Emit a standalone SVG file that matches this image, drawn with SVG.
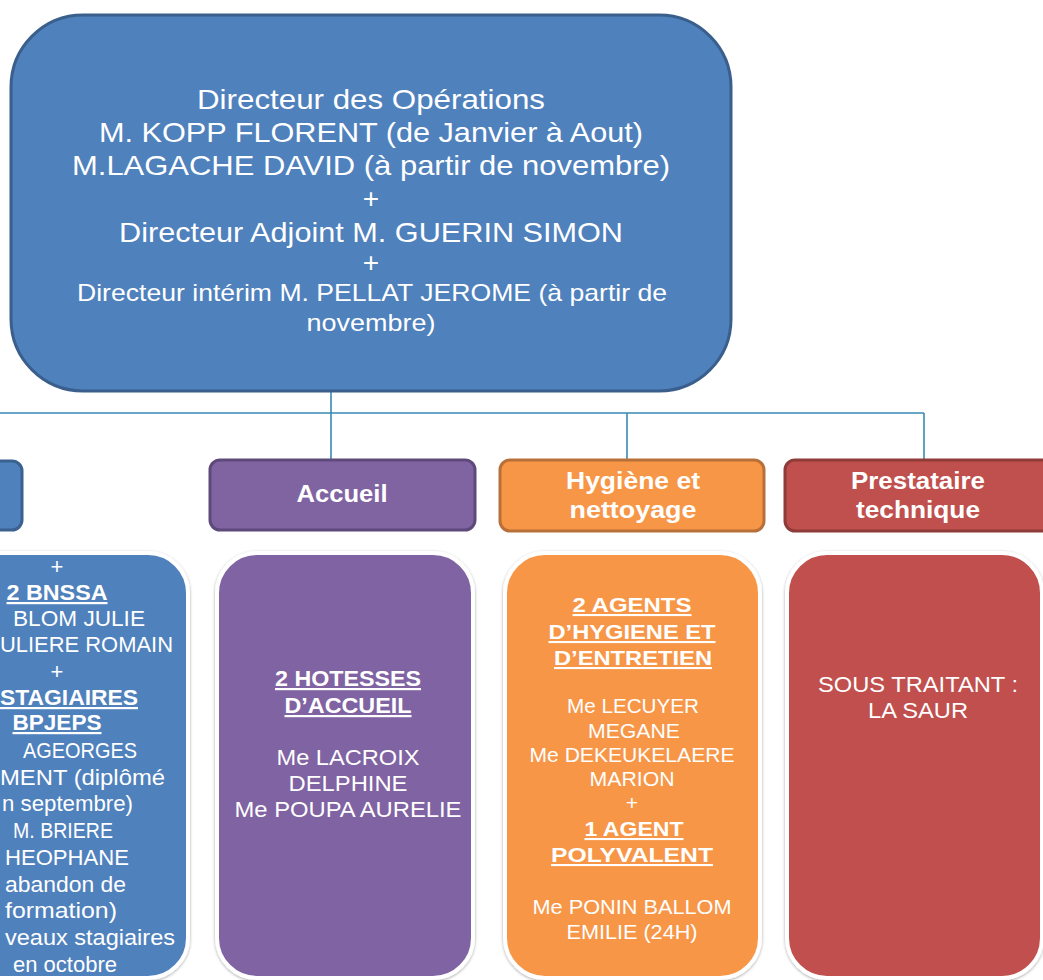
<svg xmlns="http://www.w3.org/2000/svg" width="1043" height="980" viewBox="0 0 1043 980">
<defs>
<filter id="sh" x="-10%" y="-10%" width="120%" height="120%">
<feDropShadow dx="0" dy="1" stdDeviation="1.5" flood-color="#000" flood-opacity="0.35"/>
</filter>
<style>
.t{font-family:"Liberation Sans",Arial,sans-serif;fill:#fff;text-anchor:middle}
.top{font-size:28px}
.top2{font-size:24px}
.hd{font-size:23px;font-weight:bold}
.b{font-size:22px}
.o{font-size:21px}
.u{font-weight:bold;text-decoration:underline}
.e{text-anchor:end}
.body{stroke:#fff;stroke-width:4;filter:url(#sh)}
.con{fill:none;stroke:#3A8BB4;stroke-width:1.6}
</style>
</defs>
<rect width="1043" height="980" fill="#fff"/>

<g id="connectors">
<path class="con" d="M331,391 V460 M0,413 H924 M627,413 V460 M924,413 V460"/>
</g>

<g id="director">
<rect x="11" y="15" width="720" height="376" rx="72" fill="#4F81BD" stroke="#3B5F8C" stroke-width="3"/>
<text class="t top" x="371" y="109" textLength="348" lengthAdjust="spacingAndGlyphs">Directeur des Opérations</text>
<text class="t top" x="371" y="142" textLength="544" lengthAdjust="spacingAndGlyphs">M. KOPP FLORENT (de Janvier à Aout)</text>
<text class="t top" x="371" y="175" textLength="598" lengthAdjust="spacingAndGlyphs">M.LAGACHE DAVID (à partir de novembre)</text>
<text class="t top" x="371" y="208">+</text>
<text class="t top" x="371" y="242" textLength="504" lengthAdjust="spacingAndGlyphs">Directeur Adjoint M. GUERIN SIMON</text>
<text class="t top" x="371" y="272">+</text>
<text class="t top2" x="372" y="301" textLength="590" lengthAdjust="spacingAndGlyphs">Directeur intérim M. PELLAT JEROME (à partir de</text>
<text class="t top2" x="371" y="331" textLength="129" lengthAdjust="spacingAndGlyphs">novembre)</text>
</g>

<g id="left-header">
<rect x="-250" y="461" width="272" height="69" rx="10" fill="#4F81BD" stroke="#3A6190" stroke-width="3"/>
</g>

<g id="left-body">
<rect class="body" x="-70" y="553" width="258" height="425" rx="40" fill="#4F81BD"/>
<text class="t b" x="57" y="574">+</text>
<text class="t b u" x="57" y="600" textLength="101" lengthAdjust="spacingAndGlyphs">2 BNSSA</text>
<text class="t b" x="79" y="626" textLength="132" lengthAdjust="spacingAndGlyphs">BLOM JULIE</text>
<text class="t b e" x="173" y="652" textLength="173" lengthAdjust="spacingAndGlyphs">ULIERE ROMAIN</text>
<text class="t b" x="57" y="679">+</text>
<text class="t b u e" x="138" y="705" textLength="138" lengthAdjust="spacingAndGlyphs">STAGIAIRES</text>
<text class="t b u" x="57" y="730" textLength="89" lengthAdjust="spacingAndGlyphs">BPJEPS</text>
<text class="t b" x="80" y="758" textLength="114" lengthAdjust="spacingAndGlyphs">AGEORGES</text>
<text class="t b e" x="165" y="785" textLength="165" lengthAdjust="spacingAndGlyphs">MENT (diplômé</text>
<text class="t b e" x="133" y="811" textLength="131" lengthAdjust="spacingAndGlyphs">n septembre)</text>
<text class="t b" x="63" y="838" textLength="100" lengthAdjust="spacingAndGlyphs">M. BRIERE</text>
<text class="t b e" x="129" y="865" textLength="124" lengthAdjust="spacingAndGlyphs">HEOPHANE</text>
<text class="t b e" x="126" y="892" textLength="121" lengthAdjust="spacingAndGlyphs">abandon de</text>
<text class="t b e" x="117" y="918" textLength="112" lengthAdjust="spacingAndGlyphs">formation)</text>
<text class="t b e" x="175" y="945" textLength="170" lengthAdjust="spacingAndGlyphs">veaux stagiaires</text>
<text class="t b e" x="117" y="972" textLength="104" lengthAdjust="spacingAndGlyphs">en octobre</text>
</g>

<g id="accueil-header">
<rect x="210" y="460" width="265" height="70" rx="10" fill="#8064A2" stroke="#5E4A7A" stroke-width="3"/>
<text class="t hd" x="342" y="502" textLength="91" lengthAdjust="spacingAndGlyphs">Accueil</text>
</g>

<g id="accueil-body">
<rect class="body" x="217" y="553" width="256" height="425" rx="40" fill="#8064A2"/>
<text class="t b u" x="348" y="686" textLength="146" lengthAdjust="spacingAndGlyphs">2 HOTESSES</text>
<text class="t b u" x="348" y="713" textLength="127" lengthAdjust="spacingAndGlyphs">D’ACCUEIL</text>
<text class="t b" x="348" y="765" textLength="143" lengthAdjust="spacingAndGlyphs">Me LACROIX</text>
<text class="t b" x="348" y="791" textLength="119" lengthAdjust="spacingAndGlyphs">DELPHINE</text>
<text class="t b" x="348" y="817" textLength="227" lengthAdjust="spacingAndGlyphs">Me POUPA AURELIE</text>
</g>

<g id="hygiene-header">
<rect x="500" y="460" width="264" height="71" rx="10" fill="#F79646" stroke="#B8703A" stroke-width="3"/>
<text class="t hd" x="633" y="489" textLength="134" lengthAdjust="spacingAndGlyphs">Hygiène et</text>
<text class="t hd" x="633" y="518" textLength="127" lengthAdjust="spacingAndGlyphs">nettoyage</text>
</g>

<g id="hygiene-body">
<rect class="body" x="505" y="553" width="255" height="425" rx="40" fill="#F79646"/>
<text class="t o u" x="632" y="612" textLength="119" lengthAdjust="spacingAndGlyphs">2 AGENTS</text>
<text class="t o u" x="632" y="639" textLength="167" lengthAdjust="spacingAndGlyphs">D’HYGIENE ET</text>
<text class="t o u" x="633" y="665" textLength="158" lengthAdjust="spacingAndGlyphs">D’ENTRETIEN</text>
<text class="t o" x="633" y="713" textLength="132" lengthAdjust="spacingAndGlyphs">Me LECUYER</text>
<text class="t o" x="634" y="738" textLength="92" lengthAdjust="spacingAndGlyphs">MEGANE</text>
<text class="t o" x="632" y="762" textLength="205" lengthAdjust="spacingAndGlyphs">Me DEKEUKELAERE</text>
<text class="t o" x="632" y="786" textLength="85" lengthAdjust="spacingAndGlyphs">MARION</text>
<text class="t o" x="632" y="810">+</text>
<text class="t o u" x="634" y="836" textLength="99" lengthAdjust="spacingAndGlyphs">1 AGENT</text>
<text class="t o u" x="632" y="862" textLength="162" lengthAdjust="spacingAndGlyphs">POLYVALENT</text>
<text class="t o" x="632" y="914" textLength="199" lengthAdjust="spacingAndGlyphs">Me PONIN BALLOM</text>
<text class="t o" x="632" y="939" textLength="131" lengthAdjust="spacingAndGlyphs">EMILIE (24H)</text>
</g>

<g id="prestataire-header">
<rect x="785" y="460" width="270" height="71" rx="10" fill="#C0504D" stroke="#8E3B39" stroke-width="3"/>
<text class="t hd" x="918" y="489" textLength="134" lengthAdjust="spacingAndGlyphs">Prestataire</text>
<text class="t hd" x="918" y="518" textLength="124" lengthAdjust="spacingAndGlyphs">technique</text>
</g>

<g id="prestataire-body">
<rect class="body" x="787" y="553" width="255" height="425" rx="40" fill="#C0504D"/>
<text class="t b" x="918" y="692" textLength="200" lengthAdjust="spacingAndGlyphs">SOUS TRAITANT :</text>
<text class="t b" x="918" y="718" textLength="100" lengthAdjust="spacingAndGlyphs">LA SAUR</text>
</g>
</svg>
